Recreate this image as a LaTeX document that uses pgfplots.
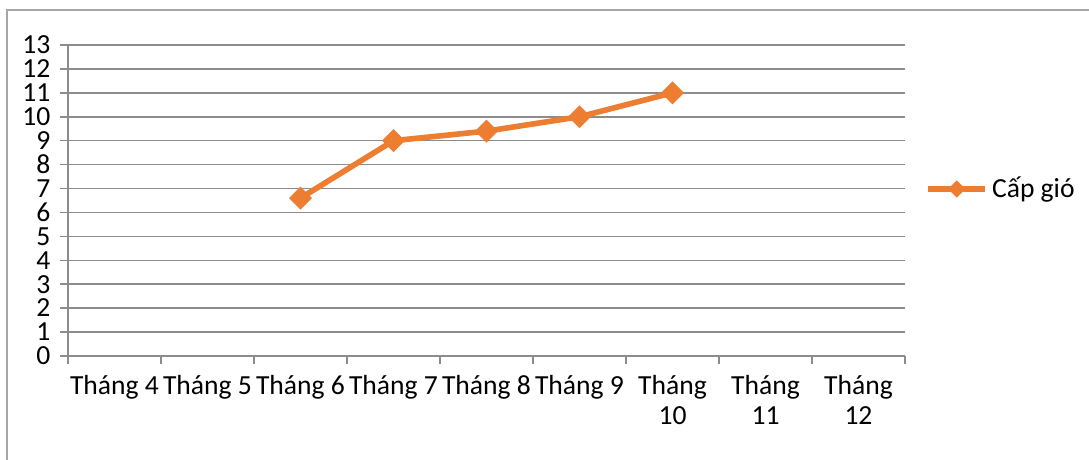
\documentclass[border=0pt]{standalone}
\usepackage{fontspec}
\setmainfont{Carlito}
\usepackage{pgfplots}
\pgfplotsset{compat=1.18}
\definecolor{ser}{HTML}{ED7D31}
\definecolor{gridc}{HTML}{8C8C8C}
\definecolor{framec}{HTML}{A6A6A6}
\newcommand\cf{\fontsize{13.8bp}{15bp}\selectfont}
\begin{document}
\cf
\begin{tikzpicture}
\useasboundingbox (-34bp,-52bp) rectangle (510.5bp,178bp);
\draw[color=framec, line width=0.9bp] (-30.5bp,-60bp) -- (-30.5bp,173bp) -- (520bp,173bp);
\begin{axis}[
  at={(0,0)}, anchor=south west, scale only axis,
  width=418.5bp, height=155.5bp,
  xmin=0.5, xmax=9.5, ymin=0, ymax=13,
  ytick={0,...,13},
  xtick={0.5,1.5,...,9.5},
  x tick label as interval,
  xticklabels={Tháng 4,Tháng 5,Tháng 6,Tháng 7,Tháng 8,Tháng 9,{Tháng\\10},{Tháng\\11},{Tháng\\12}},
  xticklabel style={align=center, font=\cf, yshift=-1bp},
  yticklabel style={font=\cf, inner ysep=0pt, text height=8.8bp, text depth=0pt},
  /pgf/number format/assume math mode=true,
  axis x line*=bottom, axis y line*=left,
  axis line style={-, color=gridc, line width=0.75bp},
  tick align=outside, major tick length=4bp,
  tick style={color=gridc, line width=0.75bp},
  ymajorgrids, grid style={color=gridc, line width=0.75bp},
  legend style={at={(1.024,0.537)}, anchor=west, draw=none, fill=none, inner sep=0pt,
    font=\cf},
  legend cell align=left,
  legend image code/.code={
    \draw[#1] (0bp,0bp) -- (28.5bp,0bp);
    \draw[#1, mark size=2.8bp] plot coordinates {(14.25bp,0bp)};
  },
]
\addplot[color=ser, line width=2.8bp, mark=square*, mark size=3.8bp,
  mark options={rotate=45, solid, line width=0.5bp}]
  coordinates {(3,6.6) (4,9) (5,9.4) (6,10) (7,11)};
\addlegendentry{Cấp gió}
\end{axis}
\end{tikzpicture}
\end{document}
